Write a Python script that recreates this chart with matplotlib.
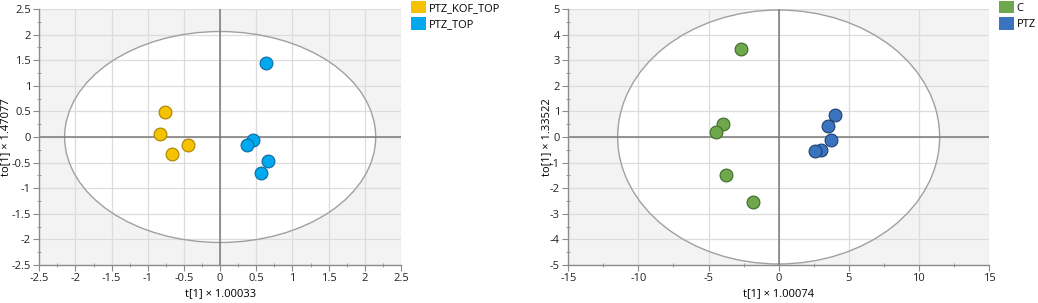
import matplotlib
matplotlib.use("Agg")
import matplotlib.pyplot as plt
from matplotlib.patches import Ellipse, Patch
from matplotlib.ticker import MultipleLocator
import numpy as np

plt.rcParams['font.family'] = ['Open Sans', 'DejaVu Sans']
plt.rcParams['font.size'] = 8
plt.rcParams['axes.unicode_minus'] = False

# Left panel data: PTZ_KOF_TOP vs PTZ_TOP
left_groups = ["PTZ_KOF_TOP", "PTZ_TOP"]
left_kof_t = [-0.76, -0.83, -0.66, -0.45]
left_kof_to = [0.49, 0.05, -0.33, -0.15]
left_top_t = [0.64, 0.46, 0.37, 0.66, 0.57]
left_top_to = [1.44, -0.05, -0.15, -0.47, -0.71]
left_xlabel = "t[1] × 1.00033"
left_ylabel = "to[1] × 1.47077"
left_ellipse = (2.15, 2.06)

# Right panel data: C vs PTZ
right_groups = ["C", "PTZ"]
right_c_t = [-2.69, -3.95, -4.49, -3.76, -1.85]
right_c_to = [3.44, 0.51, 0.20, -1.50, -2.54]
right_ptz_t = [4.02, 3.52, 3.71, 2.99, 2.57]
right_ptz_to = [0.87, 0.43, -0.13, -0.49, -0.53]
right_xlabel = "t[1] × 1.00074"
right_ylabel = "to[1] × 1.33522"
right_ellipse = (11.48, 4.96)

W, H = 1038, 303
fig = plt.figure(figsize=(W / 100, H / 100), dpi=100)

def setup(ax, lim, xmaj, xmin, ymaj, ymin, ell):
    ax.set_facecolor('#f3f3f3')
    ax.set_xlim(-lim[0], lim[0])
    ax.set_ylim(-lim[1], lim[1])
    ax.xaxis.set_major_locator(MultipleLocator(xmaj))
    ax.xaxis.set_minor_locator(MultipleLocator(xmin))
    ax.yaxis.set_major_locator(MultipleLocator(ymaj))
    ax.yaxis.set_minor_locator(MultipleLocator(ymin))
    ax.xaxis.set_major_formatter(lambda v, p: f"{v:g}")
    ax.yaxis.set_major_formatter(lambda v, p: f"{v:g}")
    ax.set_axisbelow(True)
    ax.grid(True, which='major', color='#dcdcdc', lw=0.9, zorder=0.5)
    for s in ['top', 'right']:
        ax.spines[s].set_visible(False)
    for s in ['left', 'bottom']:
        ax.spines[s].set_color('#8c8c8c')
        ax.spines[s].set_linewidth(1.0)
    ax.tick_params(which='major', length=4, color='#8c8c8c', pad=2, labelsize=8, labelcolor='#222222')
    ax.tick_params(which='minor', length=3, color='#8c8c8c', direction='inout')
    ax.add_patch(Ellipse((0, 0), 2 * ell[0], 2 * ell[1], facecolor='white', edgecolor='none', zorder=0.2))
    ax.add_patch(Ellipse((0, 0), 2 * ell[0], 2 * ell[1], facecolor='none', edgecolor='#a0a0a0', lw=1.0, zorder=1.5))
    ax.axhline(0, color='#7a7a7a', lw=1.1, zorder=1.6)
    ax.axvline(0, color='#7a7a7a', lw=1.1, zorder=1.6)

ax1 = fig.add_axes([39.3 / W, 38 / H, 361.7 / W, 256 / H])
setup(ax1, (2.5, 2.5), 0.5, 0.25, 0.5, 0.25, left_ellipse)
ax1.scatter(left_kof_t, left_kof_to, s=85, c='#f5c200', edgecolors='#a88300', linewidths=0.8, zorder=3)
ax1.scatter(left_top_t, left_top_to, s=85, c='#00a8ef', edgecolors='#0a6b9e', linewidths=0.8, zorder=3)
ax1.set_xlabel(left_xlabel, fontsize=8)
ax1.set_ylabel(left_ylabel, fontsize=8)
ax1.xaxis.set_label_coords(0.5, -23 / 256)
ax1.yaxis.set_label_coords((11.5 - 39.3) / 361.7, 0.5)

ax2 = fig.add_axes([568.3 / W, 38 / H, 420.7 / W, 256 / H])
setup(ax2, (15, 5), 5, 2.5, 1, 0.5, right_ellipse)
ax2.scatter(right_c_t, right_c_to, s=85, c='#6fa84c', edgecolors='#3d6a28', linewidths=0.8, zorder=3)
ax2.scatter(right_ptz_t, right_ptz_to, s=85, c='#3a74bf', edgecolors='#1f3f6e', linewidths=0.8, zorder=3)
ax2.set_xlabel(right_xlabel, fontsize=8)
ax2.set_ylabel(right_ylabel, fontsize=8)
ax2.xaxis.set_label_coords(0.5, -23 / 256)
ax2.yaxis.set_label_coords((552 - 568.3) / 420.7, 0.5)

fig.legend(handles=[Patch(facecolor='#f5c200', edgecolor='none'), Patch(facecolor='#00a8ef', edgecolor='none')],
           labels=left_groups, loc='upper left', bbox_to_anchor=(411 / W, 1 - 1 / H),
           frameon=False, borderpad=0, borderaxespad=0, handlelength=1.35, handleheight=1.35,
           handletextpad=0.25, labelspacing=0.3, fontsize=8)
fig.legend(handles=[Patch(facecolor='#6fa84c', edgecolor='none'), Patch(facecolor='#3a74bf', edgecolor='none')],
           labels=right_groups, loc='upper left', bbox_to_anchor=(999 / W, 1 - 1 / H),
           frameon=False, borderpad=0, borderaxespad=0, handlelength=1.35, handleheight=1.35,
           handletextpad=0.25, labelspacing=0.3, fontsize=8)

fig.savefig('out.png', dpi=100)
